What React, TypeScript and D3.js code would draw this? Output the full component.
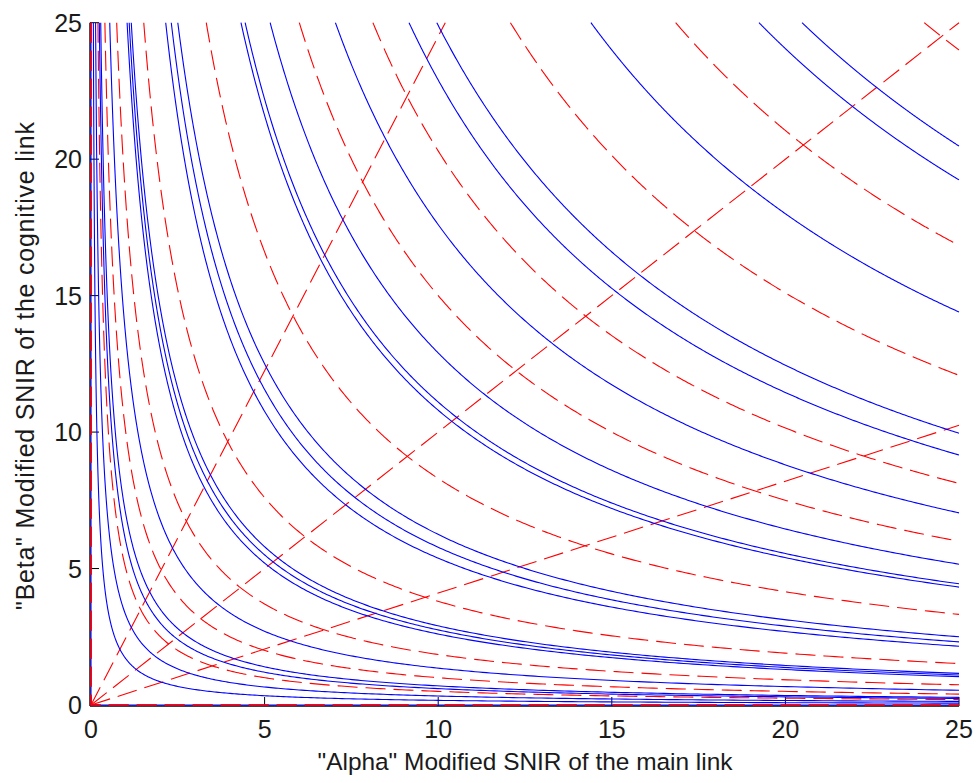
import React from "react";
import * as d3 from "d3";

// axis ticks
const xTicks = [0, 5, 10, 15, 20, 25];
const yTicks = [0, 5, 10, 15, 20, 25];
// contour levels (alpha * beta = level)
const blueLevels = [0, 1.7, 3.3, 6, 7, 13.5, 26, 27.5, 29, 53.8, 57.8, 62.5, 108, 111, 129, 176, 229, 249, 360, 481, 512];
const redLevels = [0, 5, 10, 18.5, 38, 83, 150, 203, 302, 421, 600];
// red dashed ratio lines beta = k * alpha
const redRatios = [0.41, 1, 2.45];

const W = 977;
const H = 783;
const X0 = 91, X1 = 959, Y0 = 705, Y1 = 22.7;
const MAXV = 25;

const xs = d3.scaleLinear().domain([0, MAXV]).range([X0, X1]);
const ys = d3.scaleLinear().domain([0, MAXV]).range([Y0, Y1]);
const line = d3.line<[number, number]>().x((d) => xs(d[0])).y((d) => ys(d[1]));

function levelPoints(c: number): [number, number][] {
  if (c === 0) return [[0, MAXV], [0, 0], [MAXV, 0]];
  const a = c / MAXV;
  const n = 400;
  const pts: [number, number][] = [];
  for (let i = 0; i <= n; i++) {
    const xv = a * Math.pow(MAXV / a, i / n);
    pts.push([xv, c / xv]);
  }
  return pts;
}

function ratioPoints(k: number): [number, number][] {
  return k >= 1 ? [[0, 0], [MAXV / k, MAXV]] : [[0, 0], [MAXV, MAXV * k]];
}

export default function App() {
  const font = "'Liberation Sans', Arial, Helvetica, sans-serif";
  const txt = "#1a1a1a";
  return (
    <svg width={W} height={H} style={{ position: "absolute", left: 0, top: 0, background: "#fff" }}>
      <rect x={0} y={0} width={W} height={H} fill="#fff" />
      {/* axes */}
      <line x1={X0 - 1} y1={Y1} x2={X0 - 1} y2={Y0 + 1} stroke="#000" strokeWidth={1.4} />
      <line x1={X0 - 1} y1={Y0 + 1} x2={X1} y2={Y0 + 1} stroke="#000" strokeWidth={1.4} />
      {xTicks.map((t) => (
        <g key={"xt" + t}>
          <line x1={xs(t)} x2={xs(t)} y1={Y0 + 1} y2={Y0 - 8} stroke="#000" strokeWidth={1} />
          <text x={xs(t)} y={738} fontSize={25} fontFamily={font} textAnchor="middle" fill={txt}>{t}</text>
        </g>
      ))}
      {yTicks.map((t) => (
        <g key={"yt" + t}>
          <line x1={X0 - 1} x2={X0 + 8} y1={ys(t)} y2={ys(t)} stroke="#000" strokeWidth={1} />
          <text x={82} y={ys(t) + 9} fontSize={25} fontFamily={font} textAnchor="end" fill={txt}>{t}</text>
        </g>
      ))}
      {/* red dashed contours */}
      {redLevels.map((c, i) => (
        <path key={"r" + i} d={line(levelPoints(c)) || ""} fill="none" stroke="#ff0000" strokeWidth={1.1} strokeDasharray="20 8" />
      ))}
      {redRatios.map((k, i) => (
        <path key={"k" + i} d={line(ratioPoints(k)) || ""} fill="none" stroke="#ff0000" strokeWidth={1.1} strokeDasharray="20 8" />
      ))}
      {/* blue solid contours */}
      {blueLevels.map((c, i) => (
        <path key={"b" + i} d={line(levelPoints(c)) || ""} fill="none" stroke="#0000ff" strokeWidth={1.1} />
      ))}
      {/* red dashes over the zero level so both colours show along the axes */}
      <path d={line(levelPoints(0)) || ""} fill="none" stroke="#ff0000" strokeWidth={1.6} strokeDasharray="20 8" />
      <text x={(X0 + X1) / 2} y={770} fontSize={24.5} fontFamily={font} textAnchor="middle" fill={txt} textLength={415} lengthAdjust="spacingAndGlyphs">
        "Alpha" Modified SNIR of the main link
      </text>
      <text transform={`translate(34, 366) rotate(-90)`} fontSize={25} fontFamily={font} textAnchor="middle" fill={txt} textLength={488} lengthAdjust="spacing">
        "Beta" Modified SNIR of the cognitive link
      </text>
    </svg>
  );
}
